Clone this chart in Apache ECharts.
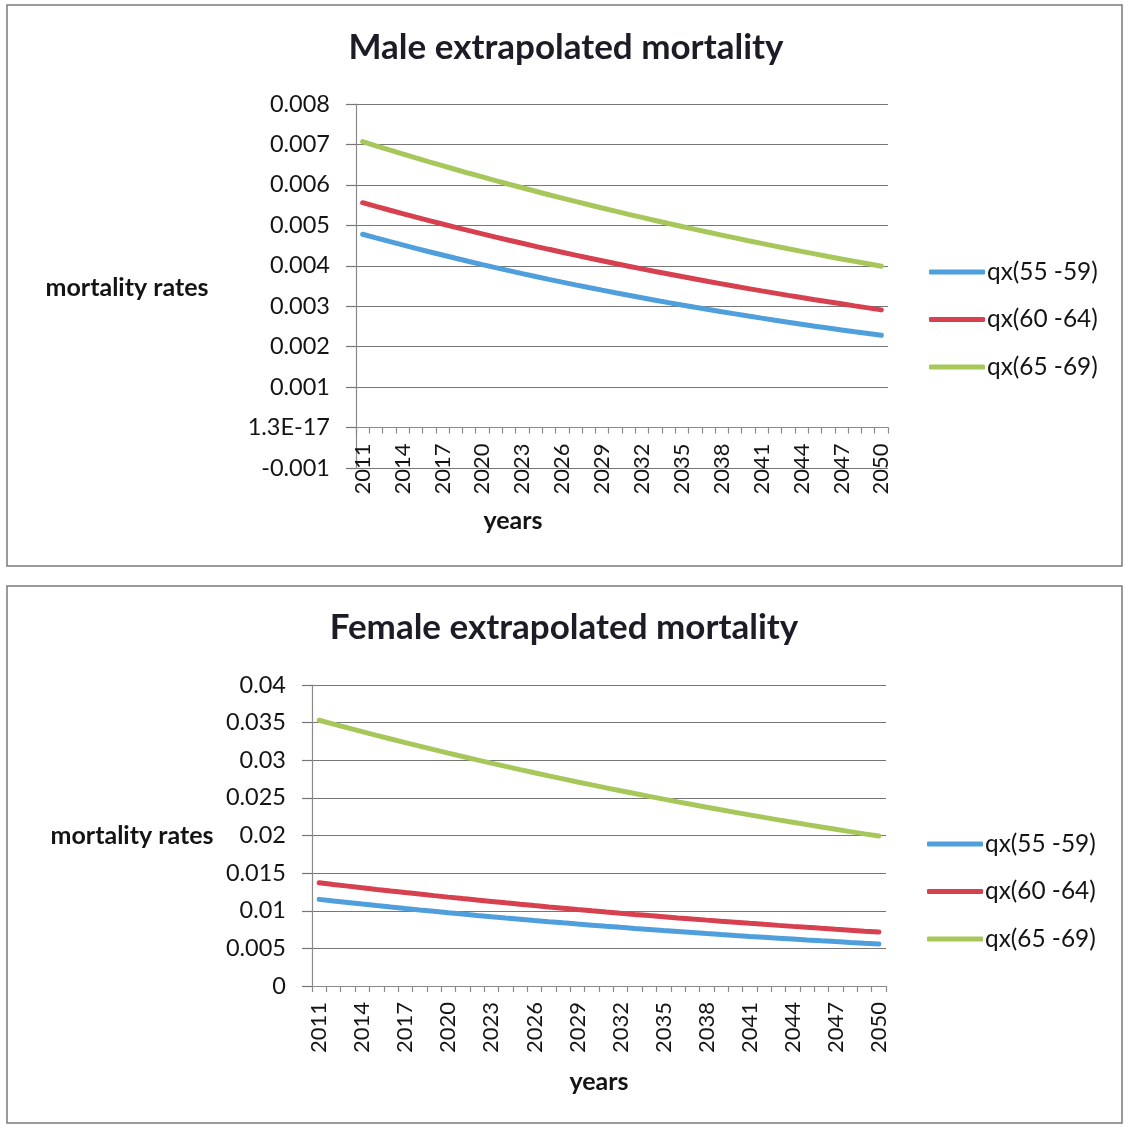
<!DOCTYPE html>
<html>
<head>
<meta charset="utf-8">
<title>Extrapolated mortality</title>
<script src="https://cdn.jsdelivr.net/npm/echarts@6/dist/echarts.min.js"></script>
<style>
  html, body { margin: 0; padding: 0; background: #ffffff; }
  #chart { width: 1125px; height: 1127px; }
</style>
</head>
<body>
<div id="chart"></div>
<script>
// Projection years shared by both panels
const years = [
  '2011','2012','2013','2014','2015','2016','2017','2018','2019','2020',
  '2021','2022','2023','2024','2025','2026','2027','2028','2029','2030',
  '2031','2032','2033','2034','2035','2036','2037','2038','2039','2040',
  '2041','2042','2043','2044','2045','2046','2047','2048','2049','2050'
];

const seriesNames = ['qx(55 -59)', 'qx(60 -64)', 'qx(65 -69)'];

// Male mortality rates by age band
const maleQx5559 = [
  0.004780, 0.004690, 0.004602, 0.004516, 0.004431, 0.004347, 0.004266, 0.004185, 0.004107, 0.004030,
  0.003954, 0.003879, 0.003807, 0.003735, 0.003665, 0.003596, 0.003528, 0.003462, 0.003397, 0.003333,
  0.003270, 0.003209, 0.003149, 0.003089, 0.003031, 0.002974, 0.002918, 0.002863, 0.002810, 0.002757,
  0.002705, 0.002654, 0.002604, 0.002555, 0.002507, 0.002460, 0.002414, 0.002368, 0.002324, 0.002280
];
const maleQx6064 = [
  0.005560, 0.005469, 0.005379, 0.005290, 0.005203, 0.005117, 0.005033, 0.004950, 0.004869, 0.004789,
  0.004710, 0.004632, 0.004556, 0.004481, 0.004407, 0.004335, 0.004263, 0.004193, 0.004124, 0.004056,
  0.003989, 0.003924, 0.003859, 0.003796, 0.003733, 0.003672, 0.003611, 0.003552, 0.003493, 0.003436,
  0.003379, 0.003324, 0.003269, 0.003215, 0.003162, 0.003110, 0.003059, 0.003008, 0.002959, 0.002910
];
const maleQx6569 = [
  0.007070, 0.006967, 0.006866, 0.006766, 0.006667, 0.006570, 0.006474, 0.006380, 0.006287, 0.006196,
  0.006105, 0.006016, 0.005929, 0.005843, 0.005757, 0.005674, 0.005591, 0.005510, 0.005429, 0.005350,
  0.005272, 0.005196, 0.005120, 0.005045, 0.004972, 0.004899, 0.004828, 0.004758, 0.004689, 0.004620,
  0.004553, 0.004487, 0.004421, 0.004357, 0.004294, 0.004231, 0.004169, 0.004109, 0.004049, 0.003990
];

// Female mortality rates by age band
const femaleQx5559 = [
  0.011510, 0.011298, 0.011090, 0.010886, 0.010686, 0.010489, 0.010296, 0.010107, 0.009921, 0.009738,
  0.009559, 0.009383, 0.009210, 0.009041, 0.008875, 0.008711, 0.008551, 0.008394, 0.008239, 0.008088,
  0.007939, 0.007793, 0.007649, 0.007509, 0.007370, 0.007235, 0.007102, 0.006971, 0.006843, 0.006717,
  0.006593, 0.006472, 0.006353, 0.006236, 0.006121, 0.006009, 0.005898, 0.005790, 0.005683, 0.005579
];
const femaleQx6064 = [
  0.013720, 0.013494, 0.013271, 0.013052, 0.012837, 0.012625, 0.012416, 0.012212, 0.012010, 0.011812,
  0.011617, 0.011425, 0.011237, 0.011051, 0.010869, 0.010690, 0.010513, 0.010340, 0.010169, 0.010001,
  0.009836, 0.009674, 0.009514, 0.009357, 0.009203, 0.009051, 0.008902, 0.008755, 0.008610, 0.008468,
  0.008328, 0.008191, 0.008056, 0.007923, 0.007792, 0.007663, 0.007537, 0.007413, 0.007290, 0.007170
];
const femaleQx6569 = [
  0.035320, 0.034805, 0.034298, 0.033798, 0.033306, 0.032820, 0.032342, 0.031871, 0.031406, 0.030949,
  0.030498, 0.030053, 0.029615, 0.029184, 0.028758, 0.028339, 0.027926, 0.027519, 0.027118, 0.026723,
  0.026334, 0.025950, 0.025572, 0.025199, 0.024832, 0.024470, 0.024113, 0.023762, 0.023416, 0.023074,
  0.022738, 0.022407, 0.022080, 0.021759, 0.021442, 0.021129, 0.020821, 0.020518, 0.020219, 0.019924
];

// Value-axis tick labels, listed from the bottom tick upwards
const maleTickLabels = ['-0.001', '1.3E-17', '0.001', '0.002', '0.003', '0.004', '0.005', '0.006', '0.007', '0.008'];
const femaleTickLabels = ['0', '0.005', '0.01', '0.015', '0.02', '0.025', '0.03', '0.035', '0.04'];

const maleAxis = { min: -0.001, max: 0.008, step: 0.001 };
const femaleAxis = { min: 0, max: 0.04, step: 0.005 };

// Plot areas (pixels)
const maleGrid = { left: 356, right: 237, top: 104, bottom: 659 };
const femaleGrid = { left: 312, right: 239, top: 685, bottom: 141 };

const lineColors = ['#4f9fdc', '#d6404f', '#a7c75b'];
const FONT = 'Lato, "Open Sans", sans-serif';
const TEXT = '#141414';
const GRID_LINE = '#767676';
const AXIS_LINE = '#8a8a8a';

function tickFormatter(labels, axis) {
  return function (v) {
    const i = Math.round((v - axis.min) / axis.step);
    return labels[i] !== undefined ? labels[i] : '';
  };
}

// The category axis crosses the value axis at zero; shift it up from the
// bottom of the plot by the height that lies below zero.
function zeroOffset(grid, axis) {
  const h = 1127 - grid.top - grid.bottom;
  return -h * (0 - axis.min) / (axis.max - axis.min);
}

function categoryAxis(gridIndex, offset) {
  return {
    type: 'category',
    gridIndex: gridIndex,
    data: years,
    boundaryGap: true,
    offset: offset,
    axisLine: { show: true, onZero: false, lineStyle: { color: AXIS_LINE, width: 1.2 } },
    axisTick: { show: true, interval: 0, length: 6, inside: false, lineStyle: { color: AXIS_LINE, width: 1.2 } },
    axisLabel: { interval: 2, rotate: 90, margin: 16, fontSize: 22, fontFamily: FONT, color: TEXT },
    splitLine: { show: false }
  };
}

function valueAxis(gridIndex, axis, labels) {
  return {
    type: 'value',
    gridIndex: gridIndex,
    min: axis.min,
    max: axis.max,
    interval: axis.step,
    axisLine: { show: true, lineStyle: { color: AXIS_LINE, width: 1.2 } },
    axisTick: { show: true, length: 10, lineStyle: { color: GRID_LINE, width: 1.2 } },
    axisLabel: { margin: 26, fontSize: 23.5, fontFamily: FONT, color: TEXT, formatter: tickFormatter(labels, axis) },
    splitLine: { show: true, lineStyle: { color: GRID_LINE, width: 1.2 } }
  };
}

function lineSeries(name, data, colorIdx, gridIndex) {
  return {
    type: 'line',
    name: name,
    data: data,
    xAxisIndex: gridIndex,
    yAxisIndex: gridIndex,
    symbol: 'none',
    smooth: false,
    color: lineColors[colorIdx],
    lineStyle: { width: 5, color: lineColors[colorIdx], cap: 'round' },
    emphasis: { disabled: true },
    animation: false
  };
}

function legendBlock(left, top) {
  return {
    data: seriesNames,
    orient: 'vertical',
    left: left,
    top: top,
    icon: 'roundRect',
    itemWidth: 56,
    itemHeight: 5,
    itemGap: 21.5,
    padding: 0,
    selectedMode: false,
    textStyle: { fontSize: 24.4, lineHeight: 26, fontFamily: FONT, color: TEXT, padding: [0, 0, 0, -3] }
  };
}

function label(text, x, y, size, kind) {
  return {
    type: 'text',
    x: x,
    y: y,
    silent: true,
    style: {
      text: text,
      fill: kind === 'title' ? '#1c1c26' : TEXT,
      font: 'bold ' + size + 'px ' + FONT,
      align: 'center',
      verticalAlign: 'middle'
    }
  };
}

function frame(x, y, w, h) {
  return {
    type: 'rect',
    silent: true,
    shape: { x: x, y: y, width: w, height: h },
    style: { fill: 'none', stroke: '#7a7a7a', lineWidth: 1.5 },
    z: -1
  };
}

const chart = echarts.init(document.getElementById('chart'), null, { renderer: 'canvas' });

chart.setOption({
  backgroundColor: '#ffffff',
  animation: false,
  textStyle: { fontFamily: FONT },
  grid: [
    Object.assign({ containLabel: false, outerBoundsMode: 'none' }, maleGrid),
    Object.assign({ containLabel: false, outerBoundsMode: 'none' }, femaleGrid)
  ],
  xAxis: [
    categoryAxis(0, zeroOffset(maleGrid, maleAxis)),
    categoryAxis(1, zeroOffset(femaleGrid, femaleAxis))
  ],
  yAxis: [
    valueAxis(0, maleAxis, maleTickLabels),
    valueAxis(1, femaleAxis, femaleTickLabels)
  ],
  legend: [legendBlock(929, 259), legendBlock(927, 831)],
  series: [
    lineSeries(seriesNames[0], maleQx5559, 0, 0),
    lineSeries(seriesNames[1], maleQx6064, 1, 0),
    lineSeries(seriesNames[2], maleQx6569, 2, 0),
    lineSeries(seriesNames[0], femaleQx5559, 0, 1),
    lineSeries(seriesNames[1], femaleQx6064, 1, 1),
    lineSeries(seriesNames[2], femaleQx6569, 2, 1)
  ],
  graphic: [
    frame(7, 5, 1115, 561),
    frame(7, 586, 1115, 537),
    label('Male extrapolated mortality', 566, 48, 35, 'title'),
    label('Female extrapolated mortality', 564, 628, 35, 'title'),
    label('mortality rates', 127, 288, 25),
    label('mortality rates', 132, 836, 25),
    label('years', 513, 521, 25),
    label('years', 599, 1082, 25)
  ]
});
</script>
</body>
</html>
